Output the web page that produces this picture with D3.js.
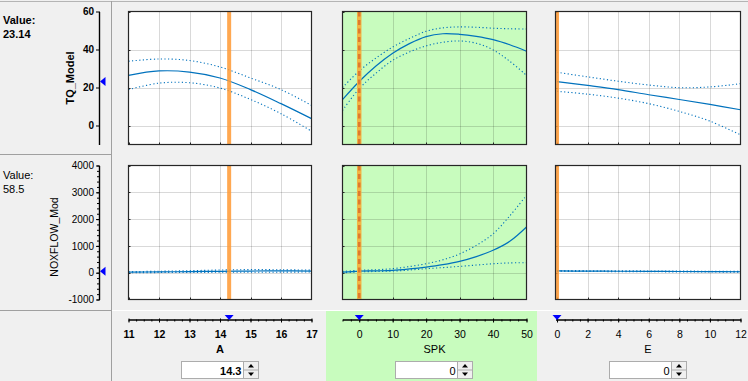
<!DOCTYPE html>
<html><head><meta charset="utf-8">
<script src="https://cdn.jsdelivr.net/npm/d3@7"></script>
<style>
body{margin:0;background:#f0f0f0;}
svg{display:block;font-family:"Liberation Sans",Arial,sans-serif;}
</style></head>
<body><svg id="c" width="748" height="381"></svg>
<script>
// ---------- data ----------
const responses = ["TQ_Model", "NOXFLOW_Mod"];
const responseValues = ["23.14", "58.5"];
const responseCurrent = [23.14, 58.5];
const tqTicks = [0, 20, 40, 60];
const noxTicks = [-1000, 0, 1000, 2000, 3000, 4000];

const factors = ["A", "SPK", "E"];
const factorCurrent = [14.3, 0, 0];
const factorInput = ["14.3", "0", "0"];
const aTicks = [11, 12, 13, 14, 15, 16, 17];
const spkTicks = [0, 10, 20, 30, 40, 50];
const eTicks = [0, 2, 4, 6, 8, 10, 12];

// factor sample points
const aX = [11, 12, 13, 14, 15, 16, 17];
const spkX = [-5, 0, 5, 10, 15, 20, 25, 30, 35, 40, 45, 50];
const eX = [0, 2, 4, 6, 8, 10, 12];

// TQ_Model predictions
const tqA = [26.4, 28.7, 28.1, 25.0, 18.9, 11.5, 3.6];
const tqAUpper = [33.8, 35.0, 34.2, 30.8, 25.0, 18.9, 10.6];
const tqALower = [18.9, 22.3, 22.5, 19.7, 13.7, 6.2, -3.0];
const tqSpk = [13.6, 23.14, 31.3, 38.0, 43.1, 46.8, 48.3, 48.0, 46.9, 45.2, 42.5, 39.1];
const tqSpkUpper = [20.0, 28.7, 35.5, 41.3, 45.8, 49.6, 51.4, 51.9, 51.7, 51.2, 50.9, 50.8];
const tqSpkLower = [7.9, 19.4, 27.5, 34.3, 38.7, 41.9, 43.8, 44.5, 43.3, 39.8, 33.8, 26.4];
const tqE = [23.14, 21.1, 18.9, 16.2, 13.7, 11.1, 8.3];
const tqEUpper = [28.0, 25.6, 23.3, 21.3, 19.9, 20.3, 22.0];
const tqELower = [18.0, 16.5, 14.4, 11.5, 7.4, 2.3, -4.9];

// NOXFLOW_Mod predictions
const noxA = [20, 30, 40, 52, 62, 68, 62];
const noxAUpper = [40, 55, 75, 100, 115, 110, 95];
const noxALower = [0, 5, 10, 15, 15, 20, 25];
const noxSpk = [20, 58.5, 70, 86, 140, 210, 300, 422, 600, 835, 1170, 1705];
const noxSpkUpper = [45, 90, 110, 150, 230, 335, 480, 700, 1020, 1450, 2120, 2890];
const noxSpkLower = [-5, 30, 45, 60, 100, 150, 190, 235, 285, 335, 365, 374];
const noxE = [65, 60, 55, 50, 45, 40, 35];
const noxEUpper = [80, 75, 70, 65, 60, 55, 50];
const noxELower = [50, 45, 40, 35, 30, 25, 20];

// ---------- layout ----------
const svg = d3.select("#c");
const BLUE = "#0072bd", GREEN = "#c8fcbe", BORDER = "#262626";
const fmt = d => String(d);

const cols = [
  {x: d3.scaleLinear([11, 17], [128.5, 311.5]), ticks: aTicks, minor: 0.25, xs: aX,
   tq: [tqA, tqAUpper, tqALower], nox: [noxA, noxAUpper, noxALower], bold: true, active: false},
  {x: d3.scaleLinear([-5, 50], [342.5, 526.5]), ticks: spkTicks, minor: 2.5, xs: spkX,
   tq: [tqSpk, tqSpkUpper, tqSpkLower], nox: [noxSpk, noxSpkUpper, noxSpkLower], bold: false, active: true},
  {x: d3.scaleLinear([-0.1, 12], [555.5, 740.5]), ticks: eTicks, minor: 0.5, xs: eX,
   tq: [tqE, tqEUpper, tqELower], nox: [noxE, noxEUpper, noxELower], bold: false, active: false}
];
const rows = [
  {y: d3.scaleLinear([-10, 60], [144.5, 11.5]), ticks: tqTicks, minor: null, key: "tq", bold: true},
  {y: d3.scaleLinear([-1000, 4000], [299.5, 165.5]), ticks: noxTicks, minor: 200, key: "nox", bold: false}
];

svg.append("rect").attr("width", 748).attr("height", 381).attr("fill", "#f0f0f0");

// green active column (slider cell)
cols.forEach((c, ci) => {
  if (c.active) {
    svg.append("rect").attr("x", 326).attr("y", 311).attr("width", 211).attr("height", 70).attr("fill", GREEN);
  }
});

// separators
svg.append("line").attr("x1", 0).attr("x2", 748).attr("y1", 1.5).attr("y2", 1.5).attr("stroke", "#b4b4b4");
svg.append("line").attr("x1", 111.5).attr("x2", 111.5).attr("y1", 1).attr("y2", 381).attr("stroke", "#a0a0a0");
[154.5, 310.5].forEach(yy => svg.append("line").attr("x1", 0).attr("x2", 111).attr("y1", yy).attr("y2", yy).attr("stroke", "#a0a0a0"));
svg.append("line").attr("x1", 112).attr("x2", 748).attr("y1", 310.5).attr("y2", 310.5).attr("stroke", "#ffffff");

// ---------- plots ----------
let clipId = 0;
rows.forEach((r, ri) => {
  const [y0, y1] = r.y.range();
  cols.forEach((c, ci) => {
    const [x0, x1] = c.x.range();
    const g = svg.append("g");
    const id = "clip" + (clipId++);
    svg.append("clipPath").attr("id", id).append("rect")
      .attr("x", x0).attr("y", y1).attr("width", x1 - x0).attr("height", y0 - y1);
    g.append("rect").attr("x", x0).attr("y", y1).attr("width", x1 - x0).attr("height", y0 - y1)
      .attr("fill", c.active ? GREEN : "#ffffff");
    const inner = g.append("g").attr("clip-path", `url(#${id})`);
    // grid
    c.ticks.forEach(t => {
      const xx = Math.round(c.x(t)) + 0.5;
      if (xx > x0 + 1 && xx < x1 - 1)
        inner.append("line").attr("x1", xx).attr("x2", xx).attr("y1", y1).attr("y2", y0)
          .attr("stroke", "#000").attr("stroke-opacity", 0.15);
    });
    r.ticks.forEach(t => {
      const yy = Math.round(r.y(t)) + 0.5;
      if (yy > y1 + 1 && yy < y0 - 1)
        inner.append("line").attr("x1", x0).attr("x2", x1).attr("y1", yy).attr("y2", yy)
          .attr("stroke", "#000").attr("stroke-opacity", 0.15);
    });
    // inward ticks
    c.ticks.forEach(t => {
      const xx = Math.round(c.x(t)) + 0.5;
      inner.append("line").attr("x1", xx).attr("x2", xx).attr("y1", y0).attr("y2", y0 - 2).attr("stroke", BORDER);
    });
    r.ticks.forEach(t => {
      const yy = Math.round(r.y(t)) + 0.5;
      inner.append("line").attr("x1", x0).attr("x2", x0 + 2).attr("y1", yy).attr("y2", yy).attr("stroke", BORDER);
    });
    // curves
    const series = c[r.key];
    const line = d3.line().x((d, i) => c.x(c.xs[i])).y(d => r.y(d)).curve(d3.curveCatmullRom);
    inner.append("path").attr("d", line(series[1])).attr("fill", "none").attr("stroke", BLUE)
      .attr("stroke-width", 1.1).attr("stroke-dasharray", "1.2,2.4");
    inner.append("path").attr("d", line(series[2])).attr("fill", "none").attr("stroke", BLUE)
      .attr("stroke-width", 1.1).attr("stroke-dasharray", "1.2,2.4");
    inner.append("path").attr("d", line(series[0])).attr("fill", "none").attr("stroke", BLUE)
      .attr("stroke-width", 1.2);
    // current factor value line
    const cx = c.x(factorCurrent[ci]);
    if (c.active) {
      inner.append("line").attr("x1", cx).attr("x2", cx).attr("y1", y1).attr("y2", y0)
        .attr("stroke", "#f2b544").attr("stroke-width", 4.5);
      inner.append("line").attr("x1", cx).attr("x2", cx).attr("y1", y1).attr("y2", y0)
        .attr("stroke", "#de7a2e").attr("stroke-width", 2.6).attr("stroke-dasharray", "5,3.5");
    } else {
      inner.append("line").attr("x1", cx).attr("x2", cx).attr("y1", y1).attr("y2", y0)
        .attr("stroke", "#ff9933").attr("stroke-opacity", 0.85).attr("stroke-width", 4);
    }
    // border
    g.append("rect").attr("x", x0).attr("y", y1).attr("width", x1 - x0).attr("height", y0 - y1)
      .attr("fill", "none").attr("stroke", BORDER).attr("stroke-width", 1.2);
  });

  // response axis
  if (r.minor) {
    const minorVals = d3.range(r.y.domain()[0], r.y.domain()[1] + 1, r.minor);
    svg.append("g").attr("transform", "translate(99,0)")
      .call(d3.axisLeft(r.y).tickValues(minorVals).tickSize(2).tickFormat(""))
      .call(s => s.select(".domain").remove())
      .call(s => s.selectAll("line").attr("stroke", "#000"));
  }
  const ax = svg.append("g").attr("transform", "translate(99,0)");
  ax.call(d3.axisLeft(r.y).tickValues(r.ticks).tickFormat(fmt).tickSizeInner(3).tickSizeOuter(0).tickPadding(2))
    .call(s => s.selectAll("text").attr("font-size", 10).attr("fill", "#000")
      .attr("font-weight", r.bold ? "bold" : "normal")
      .attr("font-family", '"Liberation Sans",Arial,sans-serif'))
    .call(s => s.selectAll("line").attr("stroke", "#000").attr("x2", -3).attr("x1", 1))
    .call(s => s.select(".domain").attr("stroke", "#000").attr("stroke-width", 1.4));
  // marker
  const my = r.y(responseCurrent[ri]);
  svg.append("path").attr("d", `M100,${my} L105.5,${my - 4.5} L105.5,${my + 4.5} Z`).attr("fill", "#0000ff");
  // labels
  const ly = ri === 0 ? 0 : 155;
  svg.append("text").attr("x", 3).attr("y", ly + 24).text("Value:")
    .attr("font-size", 11).attr("font-weight", r.bold ? "bold" : "normal");
  svg.append("text").attr("x", 3).attr("y", ly + 37.5).text(responseValues[ri])
    .attr("font-size", 11).attr("font-weight", r.bold ? "bold" : "normal");
  const lx = ri === 0 ? 70 : 53.5;
  const lcy = ri === 0 ? 78 : 237;
  svg.append("text").attr("transform", `translate(${lx},${lcy}) rotate(-90)`)
    .attr("text-anchor", "middle").attr("dominant-baseline", "central")
    .attr("font-size", ri === 0 ? 11 : 10.5).attr("font-weight", r.bold ? "bold" : "normal")
    .text(responses[ri]);
});

// ---------- sliders ----------
cols.forEach((c, ci) => {
  const [x0, x1] = c.x.range();
  const center = (x0 + x1) / 2;
  const dom = c.x.domain();
  const minorVals = d3.range(Math.ceil(dom[0] / c.minor) * c.minor, dom[1] + 1e-9, c.minor);
  svg.append("g").attr("transform", "translate(0,319.5)")
    .call(d3.axisBottom(c.x).tickValues(minorVals).tickSize(2).tickFormat(""))
    .call(s => s.select(".domain").remove())
    .call(s => s.selectAll("line").attr("stroke", "#000"));
  const g = svg.append("g").attr("transform", "translate(0,319.5)")
    .call(d3.axisBottom(c.x).tickValues(c.ticks).tickFormat(fmt).tickSizeInner(3).tickSizeOuter(0).tickPadding(8));
  g.select(".domain").attr("stroke", "#000").attr("stroke-width", 1.5);
  g.selectAll("line").attr("stroke", "#000").attr("y1", -1);
  g.selectAll("text").attr("font-size", 10.5).attr("fill", "#000")
    .attr("font-weight", c.bold ? "bold" : "normal")
    .attr("font-family", '"Liberation Sans",Arial,sans-serif');
  // marker
  const mx = c.x(factorCurrent[ci]);
  svg.append("path").attr("d", `M${mx},320 L${mx - 4.5},315 L${mx + 4.5},315 Z`).attr("fill", "#0000ff");
  // name
  svg.append("text").attr("x", center).attr("y", 349).attr("text-anchor", "middle")
    .attr("dominant-baseline", "central").attr("font-size", 11)
    .attr("font-weight", c.bold ? "bold" : "normal").text(factors[ci]);
  // input box
  const bx = Math.round(center - 39.5) + 0.5;
  svg.append("rect").attr("x", bx).attr("y", 361.5).attr("width", 62).attr("height", 17)
    .attr("fill", "#fff").attr("stroke", "#acacac");
  svg.append("text").attr("x", bx + 60).attr("y", 370.5).attr("text-anchor", "end")
    .attr("dominant-baseline", "central").attr("font-size", 11)
    .attr("font-weight", c.bold ? "bold" : "normal").text(factorInput[ci]);
  const sx = bx + 62;
  svg.append("rect").attr("x", sx).attr("y", 361.5).attr("width", 15).attr("height", 17)
    .attr("fill", "#f0f0f0").attr("stroke", "#acacac");
  svg.append("line").attr("x1", sx).attr("x2", sx + 15).attr("y1", 370).attr("y2", 370).attr("stroke", "#acacac");
  svg.append("path").attr("d", `M${sx + 7.5},364 L${sx + 4.5},367.5 L${sx + 10.5},367.5 Z`).attr("fill", "#000");
  svg.append("path").attr("d", `M${sx + 7.5},376 L${sx + 4.5},372.5 L${sx + 10.5},372.5 Z`).attr("fill", "#000");
});
</script></body></html>
